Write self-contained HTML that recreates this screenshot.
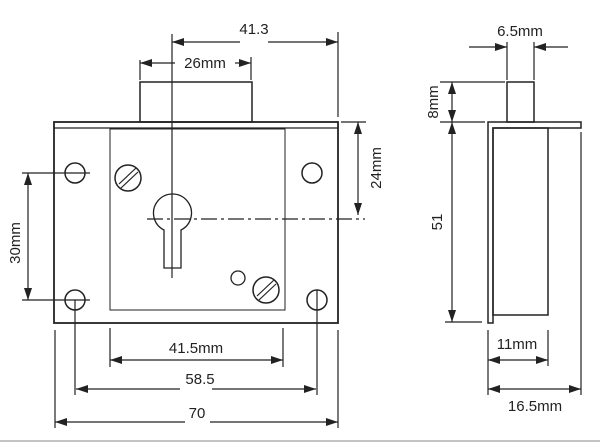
<!DOCTYPE html>
<html><head><style>html,body{margin:0;padding:0;background:#fff}svg{display:block}</style></head><body>
<svg width="600" height="442" viewBox="0 0 600 442" xmlns="http://www.w3.org/2000/svg" font-family="Liberation Sans, sans-serif" font-size="15" fill="none" stroke="#222">
<defs>
<marker id="a" viewBox="0 0 12 8" refX="12" refY="4" markerWidth="12" markerHeight="8" markerUnits="userSpaceOnUse" orient="auto-start-reverse"><path d="M0,0L12,4L0,8z" fill="#222" stroke="none"/></marker>
</defs>
<g stroke-width="1.2">
<rect x="54" y="122" width="284" height="201" stroke-width="1.8"/>
<line x1="54" y1="128" x2="338" y2="128"/>
<rect x="140" y="82" width="112" height="40" stroke-width="1.5"/>
<rect x="110" y="129" width="175" height="181" stroke-width="1"/>
<line x1="172" y1="34" x2="172" y2="278"/>
<line x1="147" y1="219" x2="365" y2="219" stroke-dasharray="16,4,3,4"/>
<circle cx="75" cy="173" r="10" stroke-width="1.5"/>
<circle cx="312" cy="173" r="10" stroke-width="1.5"/>
<circle cx="75" cy="300" r="10" stroke-width="1.5"/>
<circle cx="317" cy="300" r="10" stroke-width="1.5"/>
<circle cx="128" cy="178" r="13" stroke-width="1.5"/>
<line x1="119" y1="184" x2="136" y2="168"/><line x1="121" y1="188" x2="138" y2="172"/>
<circle cx="266" cy="290" r="13" stroke-width="1.5"/>
<line x1="257" y1="296" x2="274" y2="280"/><line x1="259" y1="300" x2="276" y2="284"/>
<circle cx="238" cy="278" r="7" stroke-width="1.3"/>
<path d="M164,230 A19,19 0 1 1 181,230 L181,268 L164,268 Z" stroke-width="1.3"/>
<line x1="338" y1="32" x2="338" y2="117"/>
<line x1="172" y1="42" x2="240" y2="42" marker-start="url(#a)"/>
<line x1="268" y1="42" x2="338" y2="42" marker-end="url(#a)"/>
<line x1="140" y1="60" x2="140" y2="80"/><line x1="251" y1="57" x2="251" y2="80"/>
<line x1="140" y1="63" x2="175" y2="63" marker-start="url(#a)"/>
<line x1="235" y1="63" x2="251" y2="63" marker-end="url(#a)"/>
<line x1="341" y1="122" x2="366" y2="122"/>
<line x1="358" y1="122" x2="358" y2="215" marker-start="url(#a)" marker-end="url(#a)"/>
<line x1="22" y1="173" x2="90" y2="173"/><line x1="22" y1="300" x2="90" y2="300"/>
<line x1="28" y1="173" x2="28" y2="300" marker-start="url(#a)" marker-end="url(#a)"/>
<line x1="75" y1="300" x2="75" y2="395"/><line x1="317" y1="290" x2="317" y2="395"/>
<line x1="110" y1="328" x2="110" y2="367"/><line x1="283" y1="328" x2="283" y2="367"/>
<line x1="110" y1="360" x2="283" y2="360" marker-start="url(#a)" marker-end="url(#a)"/>
<line x1="76" y1="389" x2="180" y2="389" marker-start="url(#a)"/>
<line x1="212" y1="389" x2="316" y2="389" marker-end="url(#a)"/>
<line x1="55" y1="330" x2="55" y2="428"/><line x1="338" y1="330" x2="338" y2="428"/>
<line x1="55" y1="422" x2="185" y2="422" marker-start="url(#a)"/>
<line x1="210" y1="422" x2="338" y2="422" marker-end="url(#a)"/>
<rect x="507" y="82" width="27" height="40" stroke-width="1.5"/>
<path d="M488,323 L488,122 L581,122 L581,128 L493,128 L493,323 Z" stroke-width="1.5"/>
<rect x="493" y="128" width="55" height="187" stroke-width="1.5"/>
<line x1="507" y1="42" x2="507" y2="80"/><line x1="534" y1="42" x2="534" y2="80"/>
<line x1="469" y1="47" x2="507" y2="47" marker-end="url(#a)"/>
<line x1="568" y1="47" x2="534" y2="47" marker-end="url(#a)"/>
<line x1="440" y1="82" x2="505" y2="82"/><line x1="440" y1="122" x2="485" y2="122"/>
<line x1="452" y1="82" x2="452" y2="122" marker-start="url(#a)" marker-end="url(#a)"/>
<line x1="452" y1="122" x2="452" y2="322" marker-start="url(#a)" marker-end="url(#a)"/>
<line x1="445" y1="322" x2="482" y2="322"/>
<line x1="488" y1="330" x2="488" y2="395"/><line x1="548" y1="330" x2="548" y2="366"/>
<line x1="581" y1="132" x2="581" y2="395"/>
<line x1="488" y1="360" x2="548" y2="360" marker-start="url(#a)" marker-end="url(#a)"/>
<line x1="488" y1="389" x2="581" y2="389" marker-start="url(#a)" marker-end="url(#a)"/>
</g>
<line x1="0" y1="441" x2="600" y2="441" stroke="#888" stroke-width="1"/>
<g fill="#222" stroke="none" text-anchor="middle">
<text x="254" y="34">41.3</text>
<text x="205" y="68">26mm</text>
<text x="0" y="0" transform="translate(381,168) rotate(-90)">24mm</text>
<text x="0" y="0" transform="translate(20,243) rotate(-90)">30mm</text>
<text x="196" y="353">41.5mm</text>
<text x="200" y="384">58.5</text>
<text x="197" y="418">70</text>
<text x="520" y="36">6.5mm</text>
<text x="0" y="0" transform="translate(438,102) rotate(-90)">8mm</text>
<text x="0" y="0" transform="translate(442,222) rotate(-90)">51</text>
<text x="517" y="349">11mm</text>
<text x="535" y="411">16.5mm</text>
</g>
</svg>
</body></html>
